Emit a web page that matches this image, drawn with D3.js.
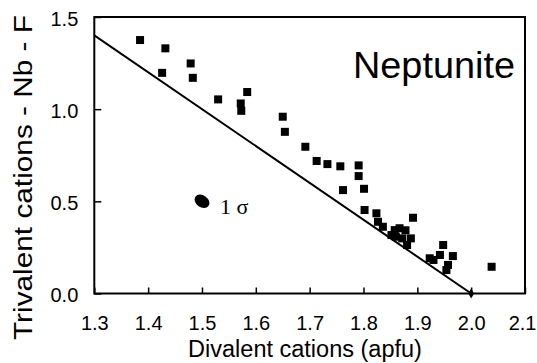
<!DOCTYPE html>
<html>
<head>
<meta charset="utf-8">
<script src="https://cdn.jsdelivr.net/npm/d3@7"></script>
<style>
  html, body { margin: 0; padding: 0; background: #fff; }
  svg { display: block; }
  .tick-label { font-family: "Liberation Sans", Arial, sans-serif; font-size: 20px; fill: #000; }
  .axis-title { font-family: "Liberation Sans", Arial, sans-serif; fill: #000; }
</style>
</head>
<body>
<svg id="chart" width="537" height="363"></svg>
<script>
// divalent cations (apfu) vs trivalent cations - Nb - F
const divalent = [
  1.385, 1.432, 1.426, 1.479, 1.483, 1.530, 1.584, 1.572, 1.573,
  1.650, 1.654, 1.692, 1.713, 1.733, 1.757, 1.791, 1.791, 1.762, 1.801,
  1.802, 1.824, 1.827, 1.836, 1.892, 1.858, 1.867, 1.852, 1.872, 1.888,
  1.881, 1.860, 1.878, 1.948, 1.942, 1.923, 1.930, 1.966, 1.957, 1.954, 2.038
];
const trivalent = [
  1.375, 1.330, 1.197, 1.248, 1.170, 1.053, 1.093, 1.031, 0.991,
  0.959, 0.877, 0.796, 0.719, 0.702, 0.690, 0.695, 0.637, 0.561, 0.568,
  0.453, 0.435, 0.389, 0.362, 0.411, 0.344, 0.354, 0.317, 0.299, 0.299,
  0.263, 0.308, 0.343, 0.263, 0.209, 0.191, 0.182, 0.203, 0.155, 0.127, 0.145
];
const xTicks = [1.3, 1.4, 1.5, 1.6, 1.7, 1.8, 1.9, 2.0, 2.1];
const yTicks = [0.0, 0.5, 1.0, 1.5];
// ideal substitution line
const lineX = [1.3, 2.0];
const lineY = [1.4, 0.0];
// 1 sigma error ellipse
const sigmaPoint = [1.5, 0.5];
const sigmaLabel = '1 σ';
const title = 'Neptunite';
const xTitle = 'Divalent cations (apfu)';
const yTitle = 'Trivalent cations - Nb - F';

const margin = { top: 17, right: 12, bottom: 69.5, left: 94.3 };
const svg = d3.select('#chart');
const width = 537 - margin.left - margin.right;
const height = 363 - margin.top - margin.bottom;
const g = svg.append('g').attr('transform', `translate(${margin.left},${margin.top})`);

const x = d3.scaleLinear().domain([1.3, 2.1]).range([0, width]);
const y = d3.scaleLinear().domain([0, 1.5]).range([height, 0]);

// frame
g.append('rect')
  .attr('x', 0).attr('y', 0)
  .attr('width', width).attr('height', height)
  .attr('fill', 'none').attr('stroke', '#000').attr('stroke-width', 2);

// x axis
const xAxis = g.append('g')
  .attr('transform', `translate(0,${height})`)
  .call(d3.axisBottom(x).tickValues(xTicks).tickFormat(d3.format('.1f')).tickSizeInner(-6).tickSizeOuter(0).tickPadding(22));
xAxis.select('.domain').remove();
xAxis.selectAll('line').attr('stroke', '#000').attr('stroke-width', 1.5);
xAxis.selectAll('text').attr('class', 'tick-label').attr('font-size', null).attr('font-family', null);
// last label sits at the window edge; keep it inside
xAxis.selectAll('text').filter(d => d === xTicks[xTicks.length - 1])
  .attr('text-anchor', 'end').attr('x', 536 - margin.left - width);

// y axis
const yAxis = g.append('g')
  .call(d3.axisLeft(y).tickValues(yTicks).tickFormat(d3.format('.1f')).tickSizeInner(-7).tickSizeOuter(0).tickPadding(16));
yAxis.select('.domain').remove();
yAxis.selectAll('line').attr('stroke', '#000').attr('stroke-width', 1.5);
yAxis.selectAll('text').attr('class', 'tick-label').attr('font-size', null).attr('font-family', null)
  .attr('dy', '0.4em');

// substitution line
const line = d3.line().x(d => x(d[0])).y(d => y(d[1]));
g.append('path')
  .datum(d3.zip(lineX, lineY))
  .attr('d', line)
  .attr('fill', 'none').attr('stroke', '#000').attr('stroke-width', 2);

// small diamond where the line meets the axis
g.append('path')
  .attr('d', d3.symbol(d3.symbolDiamond, 30)())
  .attr('transform', `translate(${x(lineX[1])},${y(lineY[1])})`)
  .attr('fill', '#000');

// data points
const side = 8;
g.selectAll('.pt')
  .data(d3.zip(divalent, trivalent))
  .enter().append('rect')
  .attr('class', 'pt')
  .attr('x', d => x(d[0]) - side / 2)
  .attr('y', d => y(d[1]) - side / 2)
  .attr('width', side).attr('height', side)
  .attr('fill', '#000');

// error ellipse
g.append('ellipse')
  .attr('transform', `translate(${x(sigmaPoint[0])},${y(sigmaPoint[1])}) rotate(35)`)
  .attr('rx', 8).attr('ry', 6)
  .attr('fill', '#000');
g.append('text')
  .attr('x', x(sigmaPoint[0]) + 18)
  .attr('y', y(sigmaPoint[1]) + 13)
  .attr('font-family', '"Liberation Serif", "Times New Roman", serif')
  .attr('font-size', 22)
  .text(sigmaLabel);

// mineral name
g.append('text')
  .attr('class', 'axis-title')
  .attr('x', width - 10)
  .attr('y', 61)
  .attr('text-anchor', 'end')
  .attr('font-size', 36)
  .attr('textLength', 162).attr('lengthAdjust', 'spacingAndGlyphs')
  .text(title);

// axis titles
svg.append('text')
  .attr('class', 'axis-title')
  .attr('x', 305).attr('y', 356.5)
  .attr('text-anchor', 'middle')
  .attr('font-size', 23.5)
  .text(xTitle);

svg.append('text')
  .attr('class', 'axis-title')
  .attr('transform', 'translate(32,177.5) rotate(-90)')
  .attr('text-anchor', 'middle')
  .attr('font-size', 26)
  .attr('textLength', 325).attr('lengthAdjust', 'spacingAndGlyphs')
  .text(yTitle);
</script>
</body>
</html>
